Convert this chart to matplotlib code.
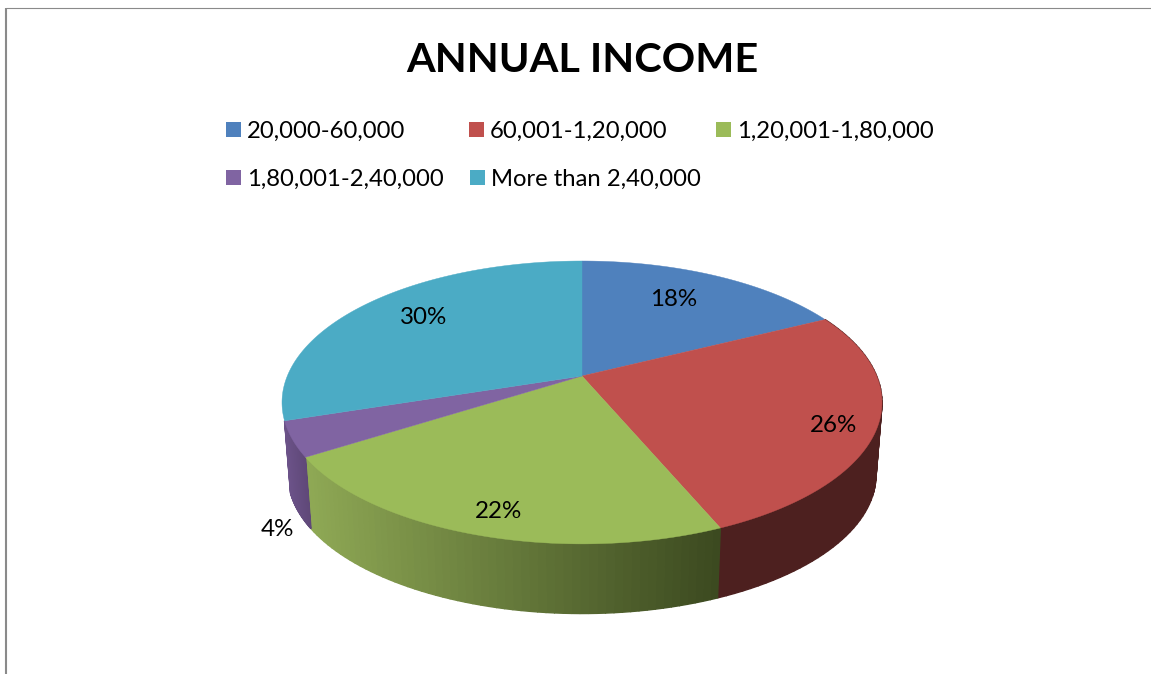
"""Annual income 3D pie chart."""

import numpy as np
import matplotlib
matplotlib.use("Agg")
import matplotlib.pyplot as plt
from matplotlib.patches import Polygon, Rectangle

plt.rcParams["font.family"] = ["Lato", "DejaVu Sans"]

TITLE = "ANNUAL INCOME"
categories = ["20,000-60,000", "60,001-1,20,000", "1,20,001-1,80,000",
              "1,80,001-2,40,000", "More than 2,40,000"]
shares = [17.6, 26.05, 22.35, 4.0, 30.0]
share_labels = ["18%", "26%", "22%", "4%", "30%"]
top_colors = ["#4f81bd", "#c0504d", "#9bbb59", "#8064a2", "#4babc5"]
wall_left = [None, "#4d201f", "#8fa955", "#6b5288", None]
wall_right = [None, "#4d201f", "#3c4a20", "#5f4878", None]
label_xy = [(674, 300), (834, 426), (499, 512), (277, 529), (424, 318)]
legend_xy = [(226, 129), (469, 129), (716, 129), (226, 177), (470, 177)]

# pie geometry in pixels
CX, CY = 582, 376
A, B, K = 294.7, 136.5, 0.187
BOTTOM_SCALE, BOTTOM_CY = 0.98, 449


def project(theta, scale=1.0, cy=CY):
    """Map a clockwise angle from north on the disc to the screen."""
    x, y = np.sin(theta), np.cos(theta)
    s = 1 / (1 + K * y)
    return CX + scale * A * x * s, cy - scale * B * y * s


def blend(c1, c2, t):
    c1, c2 = matplotlib.colors.to_rgb(c1), matplotlib.colors.to_rgb(c2)
    return tuple(a + (b - a) * t for a, b in zip(c1, c2))


fig = plt.figure(figsize=(11.51, 6.74), dpi=100)
ax = fig.add_axes([0, 0, 1, 1])
ax.set_xlim(0, 1151)
ax.set_ylim(674, 0)
ax.axis("off")

# frame around the picture
ax.plot([6.5, 6.5], [674, 7.5], color="#8a8a8a", lw=1.5, solid_capstyle="butt")
ax.plot([6, 1151], [7.5, 7.5], color="#8a8a8a", lw=0.8, solid_capstyle="butt")

edges = 2 * np.pi * np.cumsum([0] + shares) / sum(shares)

# side walls, cut into thin strips so the shading can run left to right
for i in range(len(shares)):
    if wall_left[i] is None:
        continue
    thetas = np.linspace(edges[i], edges[i + 1], 60)
    xs, _ = project(thetas)
    for j in range(len(thetas) - 1):
        t = (xs[j] - xs.min()) / max(xs.max() - xs.min(), 1)
        x0, y0 = project(thetas[j])
        x1, y1 = project(thetas[j + 1])
        x2, y2 = project(thetas[j + 1], BOTTOM_SCALE, BOTTOM_CY)
        x3, y3 = project(thetas[j], BOTTOM_SCALE, BOTTOM_CY)
        color = blend(wall_left[i], wall_right[i], t)
        ax.add_patch(Polygon([(x0, y0), (x1, y1), (x2, y2), (x3, y3)],
                             facecolor=color, edgecolor=color, lw=1.0, snap=False))

# top face
for i in range(len(shares)):
    thetas = np.linspace(edges[i], edges[i + 1], 200)
    xs, ys = project(thetas)
    pts = np.column_stack([np.r_[CX, xs], np.r_[CY, ys]])
    ax.add_patch(Polygon(pts, facecolor=top_colors[i], edgecolor=top_colors[i], lw=0.3))

for label, (x, y) in zip(share_labels, label_xy):
    ax.text(x, y, label, ha="center", va="center", fontsize=17.4, color="black")

ax.text(582, 61, TITLE, ha="center", va="center", fontsize=29.8, fontweight="bold", color="black")

# legend entries sit in two rows with uneven gaps, so they are placed by hand
for name, color, (x, y) in zip(categories, top_colors, legend_xy):
    ax.add_patch(Rectangle((x, y - 7.5), 15, 15, facecolor=color, edgecolor="none"))
    ax.text(x + 21, y + 2, name, ha="left", va="center", fontsize=17.2, color="black")

fig.savefig("out.png", dpi=100)
